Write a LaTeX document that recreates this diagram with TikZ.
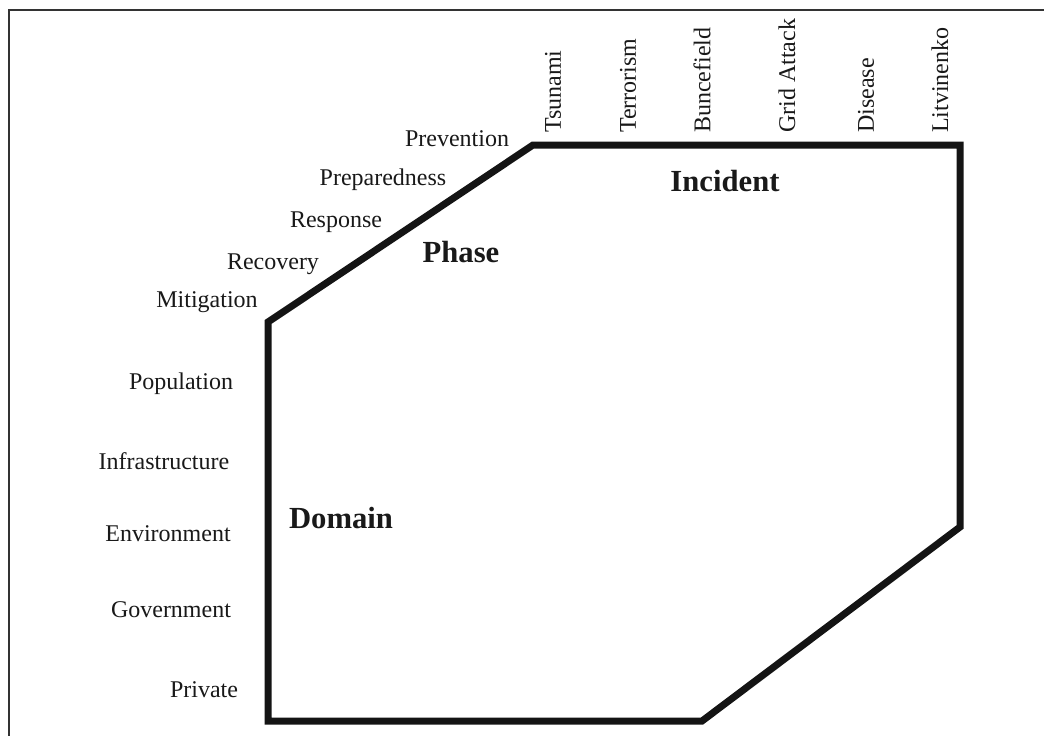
\documentclass[tikz,border=0pt]{standalone}
\usepackage{fontspec}
\setmainfont{Liberation Serif}
\begin{document}
\begin{tikzpicture}[x=0.75pt,y=-0.75pt,
  lbl/.style={inner sep=0pt, font=\fontsize{18}{20}\selectfont, text=black!90},
  vlbl/.style={lbl, rotate=90, anchor=west},
  big/.style={inner sep=0pt, font=\fontsize{23}{25}\selectfont\bfseries, text=black!90},
  outline/.style={line width=5.25pt, draw=black!92, line join=miter},
  frame/.style={line width=1.6pt, draw=black!80}]
\useasboundingbox (0,0) rectangle (1044,735);
\fill[white] (0,0) rectangle (1044,735);
% outer frame
\coordinate (fbl) at (9,740);
\coordinate (ftl) at (9,10);
\coordinate (ftr) at (1050,10);
\draw[frame] (fbl) -- (ftl) -- (ftr);
% octagon
\coordinate (ml) at (268,322);
\coordinate (tl) at (533,145);
\coordinate (tr) at (960,145);
\coordinate (rb) at (960,527);
\coordinate (br) at (702,721);
\coordinate (bl) at (268,721);
\draw[outline] (ml) -- (tl) -- (tr) -- (rb) -- (br) -- (bl) -- cycle;
% phase labels
\node[lbl] (prev) at (457,139) {Prevention};
\node[lbl] (prep) at (383,180) {Preparedness};
\node[lbl] (resp) at (336,222) {Response};
\node[lbl] (reco) at (273,264) {Recovery};
\node[lbl] (miti) at (207,302) {Mitigation};
\node[big] (phase) at (461,252) {Phase};
% incident labels
\node[vlbl] (tsu) at (553,133) {Tsunami};
\node[vlbl] (ter) at (628,133) {Terrorism};
\node[vlbl] (bun) at (702,133) {Buncefield};
\node[vlbl] (grid) at (787,133) {Grid Attack};
\node[vlbl] (dis) at (866,133) {Disease};
\node[vlbl] (lit) at (940,133) {Litvinenko};
\node[big] (inc) at (725,181) {Incident};
% domain labels
\node[lbl] (pop) at (181,384) {Population};
\node[lbl] (inf) at (164,461) {Infrastructure};
\node[lbl] (env) at (168,534) {Environment};
\node[lbl] (gov) at (171,610) {Government};
\node[lbl] (pri) at (204,690) {Private};
\node[big] (dom) at (341,518) {Domain};
\end{tikzpicture}
\end{document}
